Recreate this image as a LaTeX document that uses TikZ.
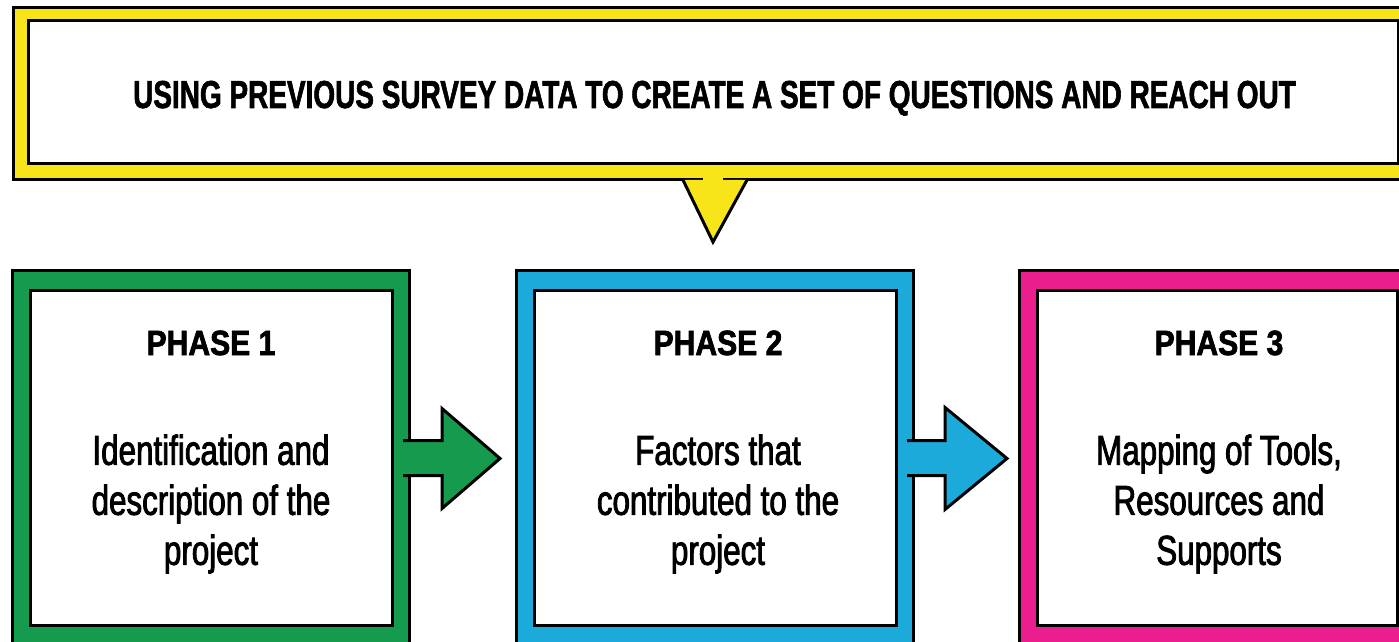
\documentclass[tikz,border=0pt]{standalone}
\usepackage{fontspec}
\setmainfont{Liberation Sans}
\newfontfamily\bannerfont[FakeStretch=0.717,FakeBold=1.5]{Liberation Sans}
\newfontfamily\phasefont[FakeStretch=0.86,FakeBold=2]{Liberation Sans}
\newfontfamily\bodyfont[FakeStretch=0.75,FakeBold=2]{Liberation Sans}
\usetikzlibrary{calc}
\definecolor{bannerYellow}{RGB}{248,229,25}
\definecolor{phaseGreen}{RGB}{22,154,78}
\definecolor{phaseBlue}{RGB}{28,170,218}
\definecolor{phasePink}{RGB}{234,30,140}

\begin{document}
\begin{tikzpicture}[x=0.5pt,y=-0.5pt,
  frame/.style={draw=black,line width=1.5pt,minimum width=198.5pt,minimum height=195pt,inner sep=0pt},
  inbox/.style={draw=black,fill=white,line width=1.5pt,minimum width=181pt,minimum height=167.5pt,inner sep=0pt},
  phasetitle/.style={anchor=base,inner sep=0pt,font=\phasefont\bfseries\fontsize{17.5}{21}\selectfont},
  phasetext/.style={align=center,inner sep=0pt,font=\bodyfont\fontsize{20.9}{25}\selectfont},
  blockarrow/.style={draw=black,line width=1.5pt,line join=miter}]
  \path[use as bounding box,clip] (0,0) rectangle (1399,642);

  % banner on top
  \node[draw=black,fill=bannerYellow,line width=1.5pt,minimum width=701.5pt,minimum height=86pt] (banner) at (714.5,94) {};
  \node[draw=black,fill=white,line width=1.5pt,minimum width=685pt,minimum height=71.5pt] (bannerin) at (713,92.5) {};
  \node[anchor=base,inner sep=0pt,font=\bannerfont\bfseries\fontsize{19.5}{23}\selectfont] (bannertext) at (714.5,108)
    {USING PREVIOUS SURVEY DATA TO CREATE A SET OF QUESTIONS AND REACH OUT};

  % pointer down to the phases
  \coordinate (tip) at (713,242);
  \path[fill=bannerYellow,draw=black,line width=1.5pt,line join=miter] (683,180) -- (tip) -- (747,180);
  \fill[bannerYellow] (703,177.5) rectangle (723,182.5);

  % phases
  \node[frame,fill=phaseGreen] (p1) at (211,465) {};
  \node[inbox] (p1in) at (211,457.5) {};
  \node[phasetitle] (h1) at (211,355) {PHASE 1};
  \node[phasetext] (t1) at (211,504) {Identification and\\description of the\\project};

  \node[frame,fill=phaseBlue] (p2) at (715,465) {};
  \node[inbox] (p2in) at (715,457.5) {};
  \node[phasetitle] (h2) at (718,355) {PHASE 2};
  \node[phasetext] (t2) at (718,504) {Factors that\\contributed to the\\project};

  \node[frame,fill=phasePink] (p3) at (1217.5,465) {};
  \node[inbox,minimum width=180pt] (p3in) at (1217,457.5) {};
  \node[phasetitle] (h3) at (1219,355) {PHASE 3};
  \node[phasetext] (t3) at (1219,504) {Mapping of Tools,\\Resources and\\Supports};

  % block arrows between phases
  \coordinate (a1) at (409,458);
  \coordinate (a2) at (913,458);
  \path[blockarrow,fill=phaseGreen] (a1) ++(-6,-17.5) -- ++(39,0) -- ++(0,-32) -- ++(58,50)
    -- ++(-58,50) -- ++(0,-33) -- ++(-39,0);
  \path[blockarrow,fill=phaseBlue] (a2) ++(-6,-17.5) -- ++(38,0) -- ++(0,-33) -- ++(62,51)
    -- ++(-62,51) -- ++(0,-34) -- ++(-38,0);
\end{tikzpicture}
\end{document}
